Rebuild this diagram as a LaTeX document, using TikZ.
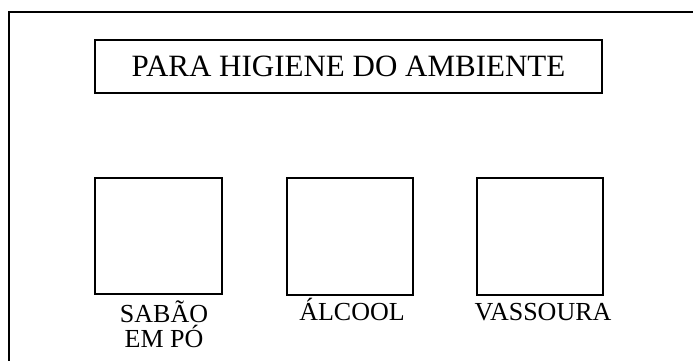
\documentclass[tikz,border=0pt]{standalone}
\usepackage{fontspec}
\setmainfont{Liberation Serif}
\begin{document}
\begin{tikzpicture}[x=1pt,y=1pt,
  frame/.style={line width=2.8pt},
  box/.style={draw,line width=2.7pt,rectangle,inner sep=0pt},
  lbl/.style={font=\fontsize{26}{25}\selectfont,align=center,inner sep=0pt}]
\useasboundingbox (0,0) rectangle (693,-360);
\coordinate (fb) at (9,-361);
\coordinate (fc) at (9,-12);
\coordinate (fr) at (694,-12);
\draw[frame] (fb) -- (fc) -- (fr);
\node[box,minimum width=507pt,minimum height=53pt,font=\fontsize{31}{32}\selectfont] (title) at (348.5,-66.5) {PARA HIGIENE DO AMBIENTE};
\node[box,minimum width=127pt,minimum height=116pt] (s1) at (158.5,-236) {};
\node[box,minimum width=126pt,minimum height=117pt] (s2) at (350,-236.5) {};
\node[box,minimum width=126pt,minimum height=117pt] (s3) at (540,-236.5) {};
\node[lbl,anchor=base] (l1) at (164,-347) {SABÃO\\EM PÓ};
\node[lbl,anchor=base] (l2) at (352,-320) {ÁLCOOL};
\node[lbl,anchor=base] (l3) at (543,-320) {VASSOURA};
\end{tikzpicture}
\end{document}
